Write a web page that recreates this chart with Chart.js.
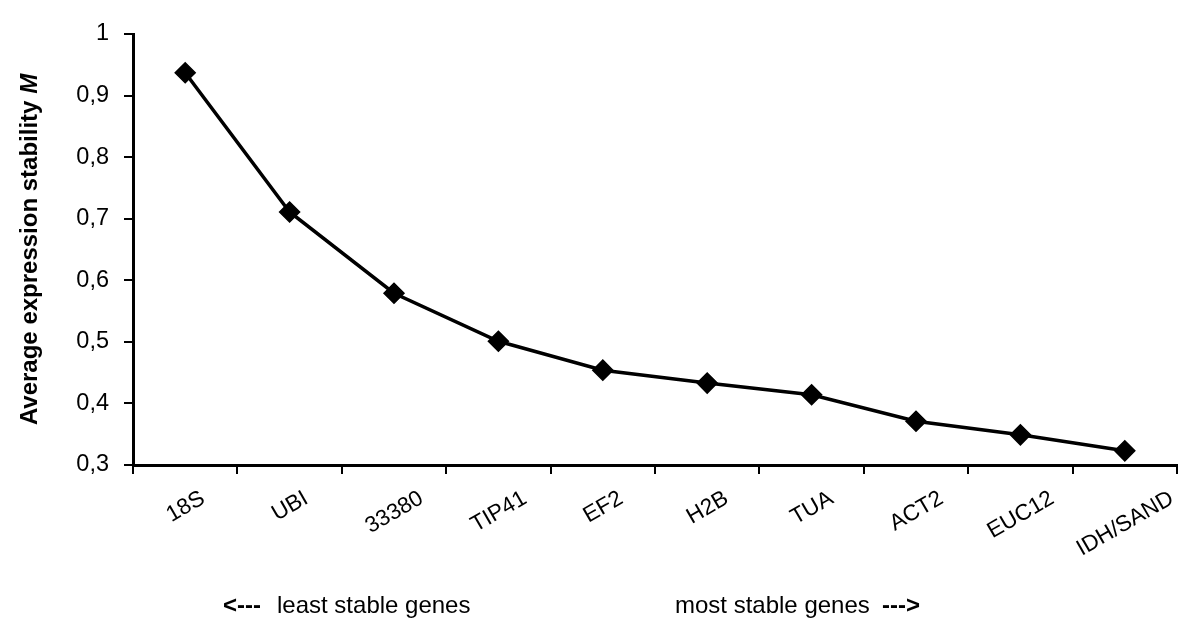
<!DOCTYPE html>
<html>
<head>
<meta charset="utf-8">
<script src="https://cdn.jsdelivr.net/npm/chart.js@4.4.1/dist/chart.umd.min.js"></script>
<style>
  html, body { margin: 0; padding: 0; background: #fff; }
  #wrap { width: 1200px; height: 629px; position: relative; }
</style>
</head>
<body>
<div id="wrap"><canvas id="c"></canvas></div>
<script>
const genes = ['18S', 'UBI', '33380', 'TIP41', 'EF2', 'H2B', 'TUA', 'ACT2', 'EUC12', 'IDH/SAND'];
const stabilityM = [0.937, 0.711, 0.579, 0.501, 0.454, 0.433, 0.414, 0.371, 0.349, 0.323];
const yTitleMain = 'Average expression stability ';
const yTitleItalic = 'M';
const footerLeftArrow = '<---';
const footerLeftText = 'least stable genes';
const footerRightText = 'most stable genes';
const footerRightArrow = '--->';

const FONT = "'Liberation Sans', Arial, Helvetica, sans-serif";

const textPlugin = {
  id: 'customText',
  afterDraw(chart) {
    const ctx = chart.ctx;
    const xs = chart.scales.x;
    const area = chart.chartArea;
    ctx.save();
    ctx.fillStyle = '#000';

    // rotated category labels, centered on each category
    ctx.font = '22.5px ' + FONT;
    const ang = -30 * Math.PI / 180;
    const h = 22.5 * 0.72;
    genes.forEach((g, i) => {
      const x = xs.getPixelForValue(i);
      const L = ctx.measureText(g).width;
      const bboxH = L * 0.5 + h * 0.866;
      const cy = area.bottom + 24 + bboxH / 2;
      ctx.save();
      ctx.translate(x, cy);
      ctx.rotate(ang);
      ctx.textAlign = 'center';
      ctx.textBaseline = 'middle';
      ctx.fillText(g, 0, 1);
      ctx.restore();
    });

    // y axis title with italic M
    const cyTitle = (area.top + area.bottom) / 2;
    ctx.save();
    ctx.translate(37, cyTitle);
    ctx.rotate(-Math.PI / 2);
    ctx.textBaseline = 'alphabetic';
    ctx.textAlign = 'left';
    ctx.font = 'bold 24px ' + FONT;
    const w1 = ctx.measureText(yTitleMain).width;
    ctx.font = 'italic bold 24px ' + FONT;
    const w2 = ctx.measureText(yTitleItalic).width;
    const start = -(w1 + w2) / 2;
    ctx.font = 'bold 24px ' + FONT;
    ctx.fillText(yTitleMain, start, 0);
    ctx.font = 'italic bold 24px ' + FONT;
    ctx.fillText(yTitleItalic, start + w1, 0);
    ctx.restore();

    // footer
    ctx.textBaseline = 'alphabetic';
    ctx.textAlign = 'left';
    ctx.font = 'bold 24px ' + FONT;
    ctx.fillText(footerLeftArrow, 223, 613);
    ctx.font = '24px ' + FONT;
    ctx.fillText(footerLeftText, 277, 613);
    ctx.fillText(footerRightText, 675, 613);
    ctx.font = 'bold 24px ' + FONT;
    ctx.fillText(footerRightArrow, 882, 613);
    ctx.restore();
  }
};

new Chart(document.getElementById('c'), {
  type: 'line',
  data: {
    labels: genes,
    datasets: [{
      data: stabilityM,
      borderColor: '#000',
      backgroundColor: '#000',
      borderWidth: 3.5,
      tension: 0,
      pointStyle: 'rectRot',
      pointRadius: 10,
      pointHoverRadius: 10,
      pointBorderWidth: 1.5,
      pointBackgroundColor: '#000',
      pointBorderColor: '#000'
    }]
  },
  options: {
    responsive: true,
    maintainAspectRatio: false,
    animation: false,
    events: [],
    layout: { padding: { top: 34, right: 23, bottom: 0, left: 0 } },
    plugins: {
      legend: { display: false },
      tooltip: { enabled: false },
      title: { display: false }
    },
    scales: {
      x: {
        type: 'category',
        offset: true,
        grid: {
          offset: true,
          drawOnChartArea: false,
          drawTicks: true,
          tickLength: 9,
          color: '#000',
          lineWidth: 2
        },
        border: { display: true, color: '#000', width: 3 },
        ticks: { display: false },
        afterFit(scale) { scale.height = 164; }
      },
      y: {
        min: 0.3,
        max: 1,
        grid: {
          drawOnChartArea: false,
          drawTicks: true,
          tickLength: 9,
          color: '#000',
          lineWidth: 2
        },
        border: { display: true, color: '#000', width: 3 },
        ticks: {
          stepSize: 0.1,
          padding: 15,
          color: '#000',
          font: { family: FONT, size: 23.5 },
          callback(v) {
            const r = Math.round(v * 10) / 10;
            return r === 1 ? '1' : r.toFixed(1).replace('.', ',');
          }
        },
        afterFit(scale) { scale.width = 133; }
      }
    }
  },
  plugins: [textPlugin]
});
</script>
</body>
</html>
